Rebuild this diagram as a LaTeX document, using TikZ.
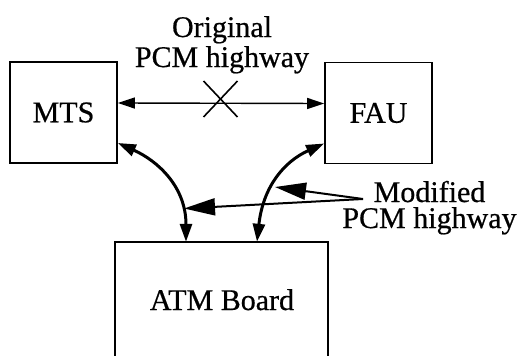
\documentclass[tikz,border=0pt]{standalone}
\usepackage{fontspec}
\setmainfont[FakeBold=0.6]{Liberation Serif}
\usetikzlibrary{arrows.meta}
\begin{document}
\begin{tikzpicture}[x=1pt,y=-1pt,
  unitbox/.style={draw,line width=1.8pt,minimum width=107pt,minimum height=101pt,
    inner sep=0pt,font=\fontsize{30}{32}\selectfont},
  lbl/.style={anchor=base,inner sep=0pt,font=\fontsize{30}{32}\selectfont},
  twoline/.style={anchor=base,inner sep=0pt,align=center,font=\fontsize{30}{#1}\selectfont},
  pcm/.style={line width=1.4pt,{Triangle[length=17pt,width=11pt]}-{Triangle[length=17pt,width=11pt]}},
  link/.style={line width=3pt,{Triangle[length=18pt,width=12pt]}-{Triangle[length=18pt,width=12pt]}},
  pointer/.style={line width=2pt,-{Triangle[length=31pt,width=17pt]}}]
\clip (0,0) rectangle (525,356);

% unit boxes
\node[unitbox] (mts) at (63.5,112.5) {MTS};
\node[unitbox] (fau) at (378.5,113) {FAU};
\node[inner sep=0pt,minimum width=213pt,minimum height=160pt] (atm) at (221.5,322) {};
\draw[line width=1.8pt] (atm.south west) -- (atm.north west) -- (atm.north east) -- (atm.south east);
\node[lbl] (atmlabel) at (222,310) {ATM Board};

% original highway, cut (label anchored on its last baseline)
\draw[pcm] ([yshift=9.5pt]mts.east) -- ([yshift=9.5pt]fau.west);
\coordinate (cut) at (220.5,99);
\draw[line width=1.6pt] ([shift={(-17,-18)}]cut) -- ([shift={(17,18)}]cut);
\draw[line width=1.6pt] ([shift={(-17,18)}]cut) -- ([shift={(17,-18)}]cut);
\node[twoline=30] (orig) at (222,67) {Original\\PCM highway};

% modified highway through the ATM board
\draw[link] ([yshift=-30.5pt]mts.east) .. controls +(40,18) and +(0,-55) .. ([xshift=-35.5pt]atm.north);
\draw[link] ([yshift=-30.5pt]fau.west) .. controls +(-40,18) and +(6,-55) .. ([xshift=35.5pt]atm.north);

\node[twoline=26] (mod) at (429.5,228) {Modified\\PCM highway};
\coordinate (ptr) at (363,199);
\draw[pointer] (ptr) -- (184,208.5);
\draw[pointer] (ptr) -- (275,187);
\end{tikzpicture}
\end{document}
